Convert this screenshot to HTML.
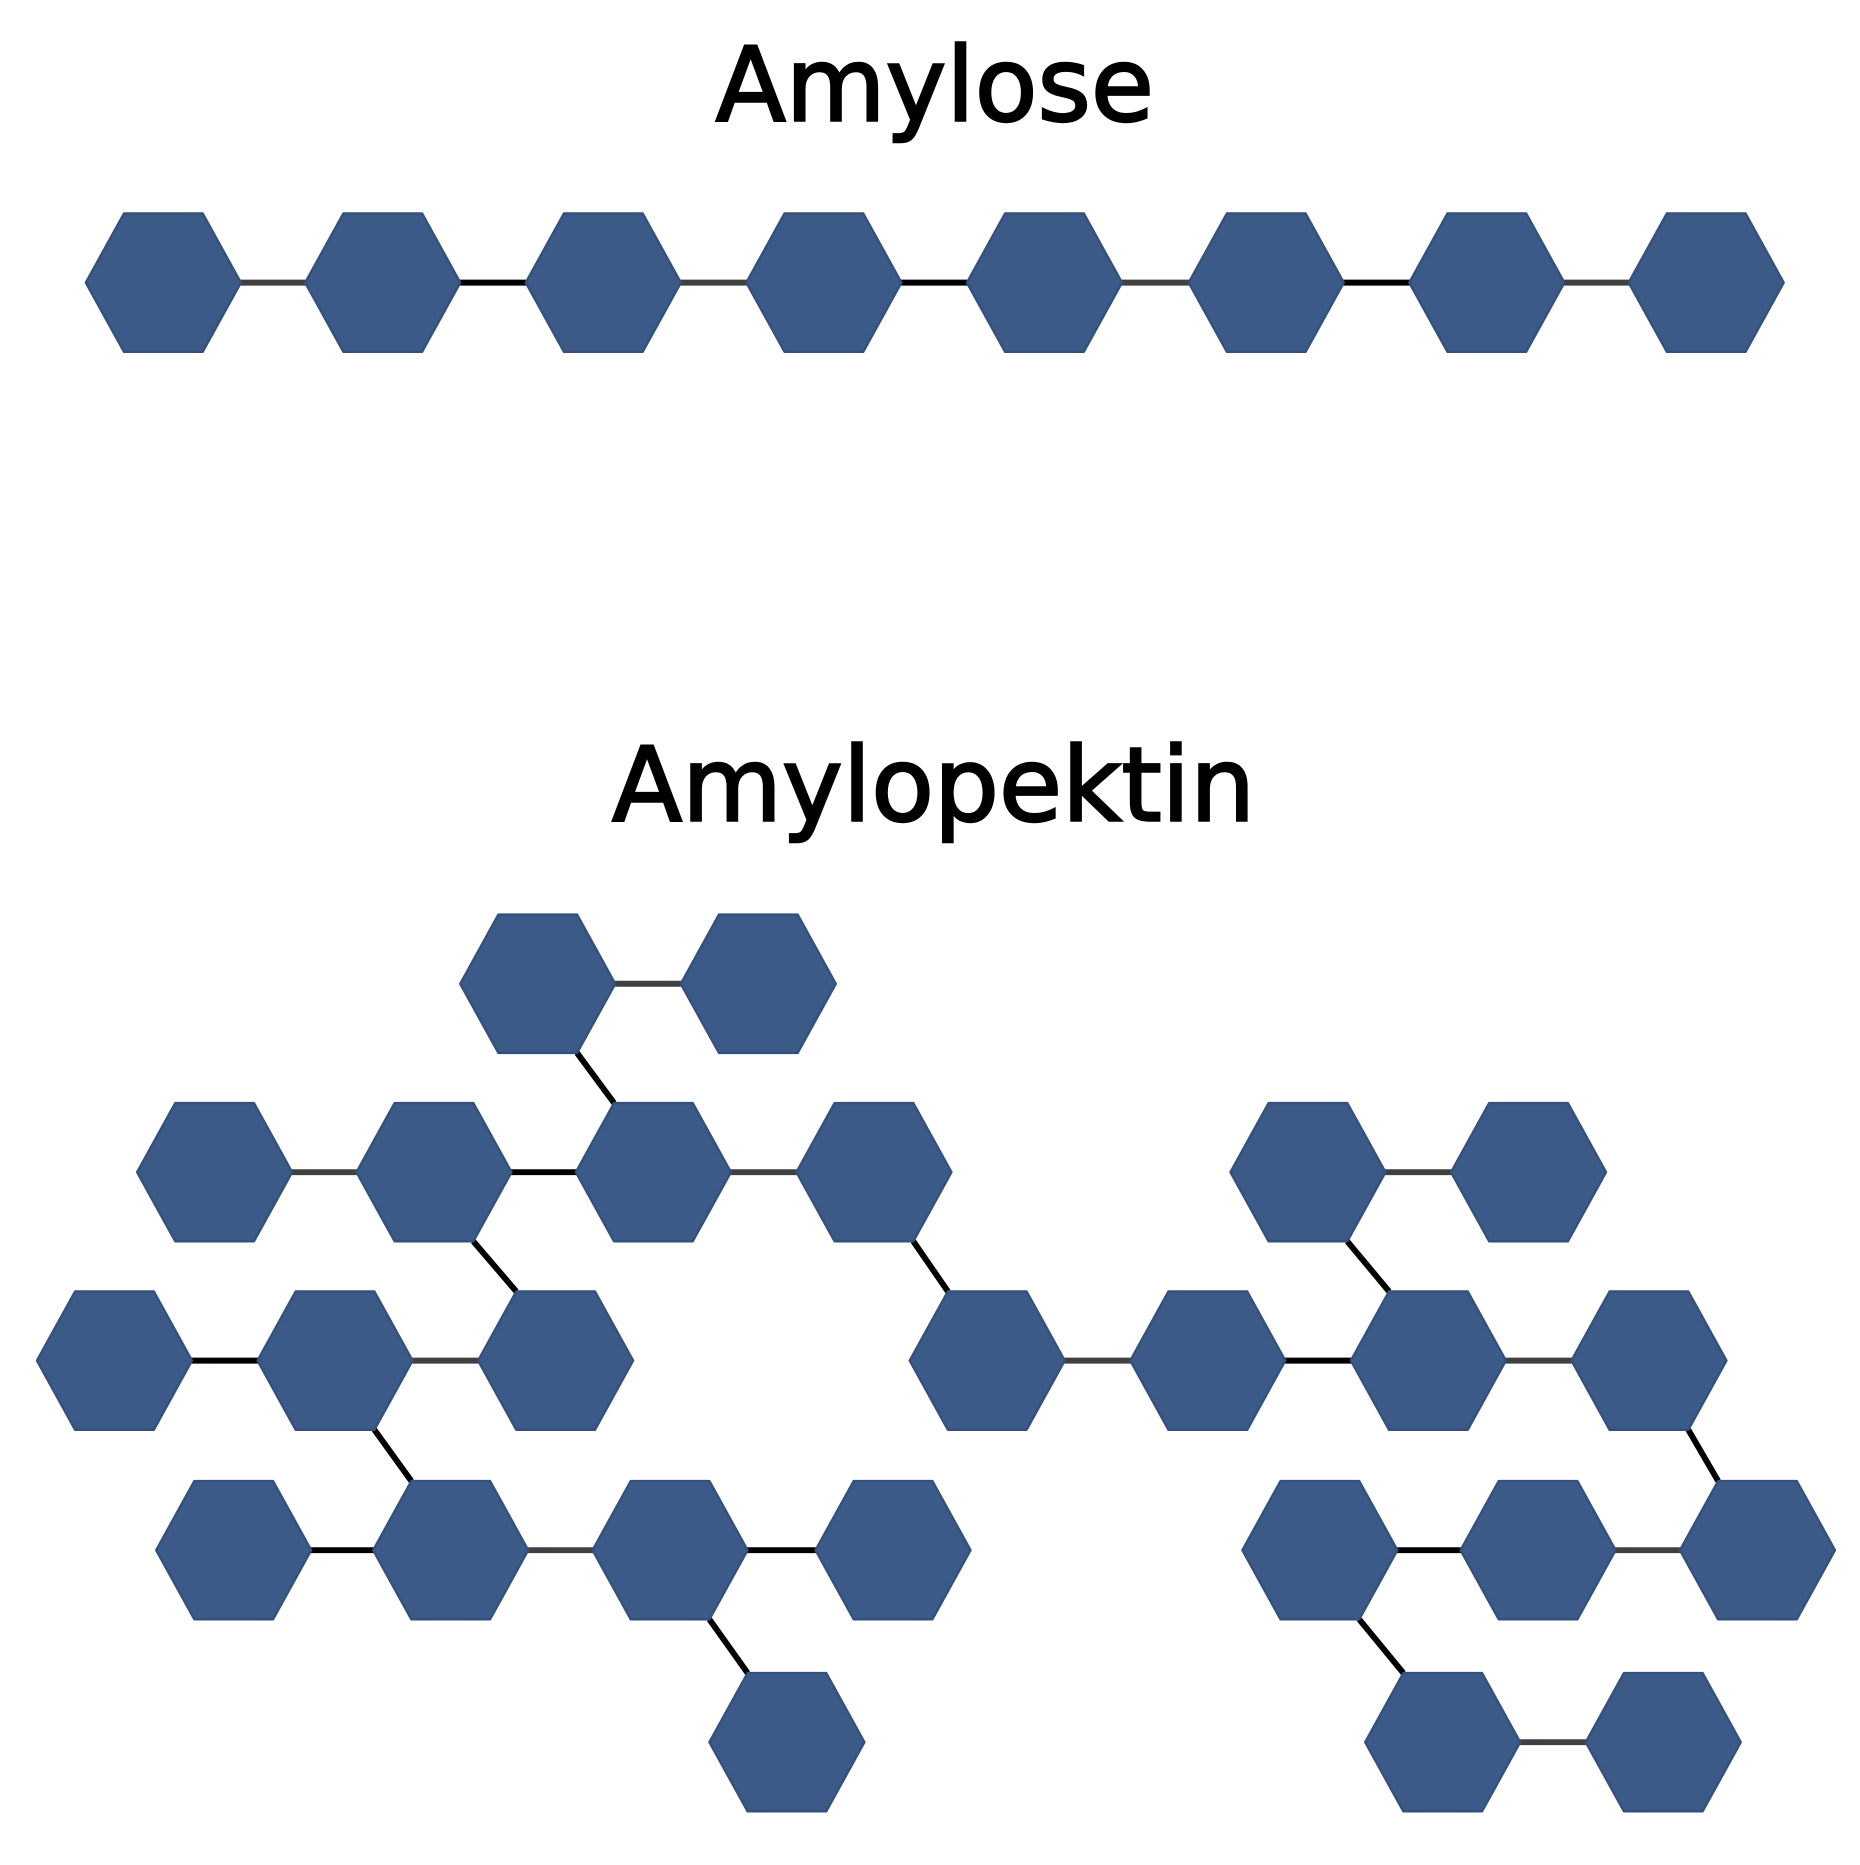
<!DOCTYPE html>
<html><head><meta charset="utf-8"><style>
html,body{margin:0;padding:0;background:#fff;}
svg{display:block;}
</style></head><body>
<svg width="1860" height="1865" viewBox="0 0 1560 1564" preserveAspectRatio="none" xmlns="http://www.w3.org/2000/svg">
<defs>
<polygon id="h" points="-65,0 -33,-58 33,-58 65,0 33,58 -33,58" fill="#3c5a88" stroke="#34507c" stroke-width="2" stroke-linejoin="round"/>
</defs>
<text x="784" y="101" font-family="DejaVu Sans, sans-serif" font-size="86" text-anchor="middle" fill="#000" stroke="#000" stroke-width="2">Amylose</text>
<text x="783" y="688" font-family="DejaVu Sans, sans-serif" font-size="86" text-anchor="middle" fill="#000" stroke="#000" stroke-width="2">Amylopektin</text>
<g stroke-width="5">
<line x1="137" y1="237" x2="321" y2="237" stroke="#404040"/>
<line x1="321" y1="237" x2="506" y2="237" stroke="#000"/>
<line x1="506" y1="237" x2="691" y2="237" stroke="#404040"/>
<line x1="691" y1="237" x2="876" y2="237" stroke="#000"/>
<line x1="876" y1="237" x2="1062" y2="237" stroke="#404040"/>
<line x1="1062" y1="237" x2="1247" y2="237" stroke="#000"/>
<line x1="1247" y1="237" x2="1431" y2="237" stroke="#404040"/>
<line x1="451" y1="825" x2="636" y2="825" stroke="#404040"/>
<line x1="180" y1="983" x2="364" y2="983" stroke="#404040"/>
<line x1="364" y1="983" x2="548" y2="983" stroke="#000"/>
<line x1="548" y1="983" x2="733" y2="983" stroke="#404040"/>
<line x1="1097" y1="983" x2="1282" y2="983" stroke="#404040"/>
<line x1="96" y1="1141" x2="281" y2="1141" stroke="#000"/>
<line x1="281" y1="1141" x2="466" y2="1141" stroke="#404040"/>
<line x1="828" y1="1141" x2="1013" y2="1141" stroke="#404040"/>
<line x1="1013" y1="1141" x2="1198" y2="1141" stroke="#000"/>
<line x1="1198" y1="1141" x2="1383" y2="1141" stroke="#404040"/>
<line x1="196" y1="1300" x2="378" y2="1300" stroke="#000"/>
<line x1="378" y1="1300" x2="562" y2="1300" stroke="#404040"/>
<line x1="562" y1="1300" x2="749" y2="1300" stroke="#000"/>
<line x1="1107" y1="1300" x2="1290" y2="1300" stroke="#000"/>
<line x1="1290" y1="1300" x2="1474" y2="1300" stroke="#404040"/>
<line x1="1210" y1="1461" x2="1395" y2="1461" stroke="#404040"/>
<line x1="484" y1="883" x2="515" y2="925" stroke="#000"/>
<line x1="397" y1="1041" x2="433" y2="1083" stroke="#000"/>
<line x1="766" y1="1041" x2="795" y2="1083" stroke="#000"/>
<line x1="1130" y1="1041" x2="1165" y2="1083" stroke="#000"/>
<line x1="314" y1="1199" x2="345" y2="1242" stroke="#000"/>
<line x1="1416" y1="1199" x2="1441" y2="1242" stroke="#000"/>
<line x1="595" y1="1358" x2="627" y2="1403" stroke="#000"/>
<line x1="1140" y1="1358" x2="1177" y2="1403" stroke="#000"/>
</g>
<g>
<use href="#h" x="137" y="237"/><use href="#h" x="321" y="237"/><use href="#h" x="506" y="237"/><use href="#h" x="691" y="237"/>
<use href="#h" x="876" y="237"/><use href="#h" x="1062" y="237"/><use href="#h" x="1247" y="237"/><use href="#h" x="1431" y="237"/>
<use href="#h" x="451" y="825"/><use href="#h" x="636" y="825"/>
<use href="#h" x="180" y="983"/><use href="#h" x="364" y="983"/><use href="#h" x="548" y="983"/><use href="#h" x="733" y="983"/>
<use href="#h" x="1097" y="983"/><use href="#h" x="1282" y="983"/>
<use href="#h" x="96" y="1141"/><use href="#h" x="281" y="1141"/><use href="#h" x="466" y="1141"/>
<use href="#h" x="828" y="1141"/><use href="#h" x="1013" y="1141"/><use href="#h" x="1198" y="1141"/><use href="#h" x="1383" y="1141"/>
<use href="#h" x="196" y="1300"/><use href="#h" x="378" y="1300"/><use href="#h" x="562" y="1300"/><use href="#h" x="749" y="1300"/>
<use href="#h" x="1107" y="1300"/><use href="#h" x="1290" y="1300"/><use href="#h" x="1474" y="1300"/>
<use href="#h" x="660" y="1461"/><use href="#h" x="1210" y="1461"/><use href="#h" x="1395" y="1461"/>
</g>
</svg>
</body></html>
